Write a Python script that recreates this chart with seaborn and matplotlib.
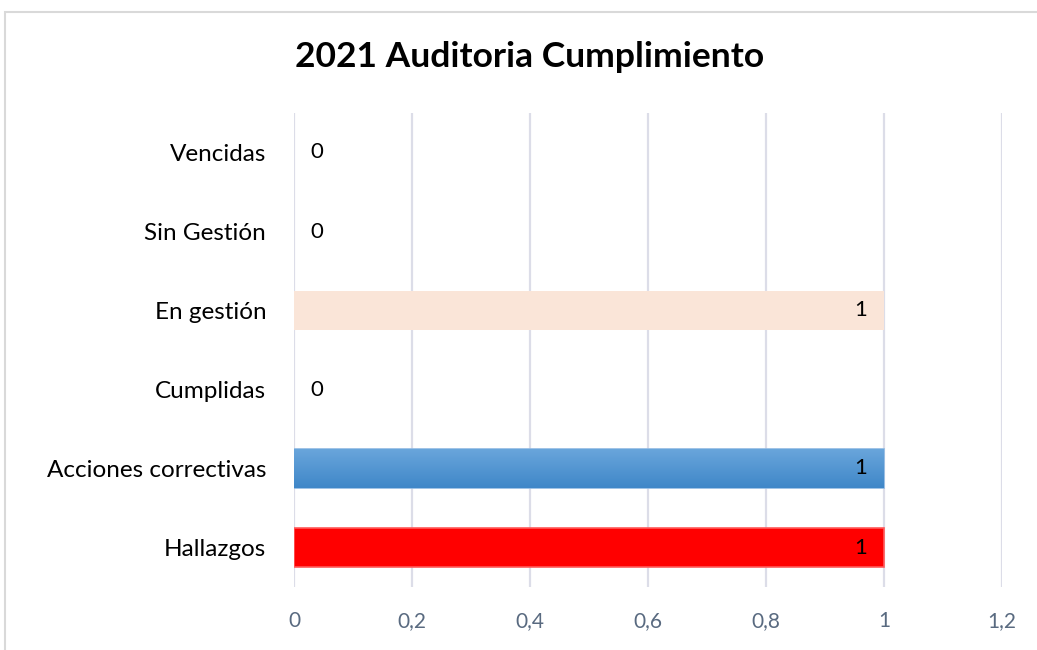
import matplotlib
matplotlib.use("Agg")
import matplotlib.pyplot as plt
import matplotlib.patches as mpatches
import numpy as np
import pandas as pd
import seaborn as sns

# ── data ───────────────────────────────────────────────
categories = ["Vencidas", "Sin Gestión", "En gestión", "Cumplidas",
              "Acciones correctivas", "Hallazgos"]
values = [0, 0, 1, 0, 1, 1]
bar_colors = ["#FFFFFF", "#FFFFFF", "#FAE5D8", "#FFFFFF", "#5398D6", "#FF0000"]
x_ticks = [0, 0.2, 0.4, 0.6, 0.8, 1, 1.2]
x_tick_labels = ["0", "0,2", "0,4", "0,6", "0,8", "1", "1,2"]
title = "2021 Auditoria Cumplimiento"

df = pd.DataFrame({"categoria": categories, "valor": values})

sns.set_theme(style="white")
plt.rcParams["font.family"] = ["Lato", "DejaVu Sans"]

fig = plt.figure(figsize=(10.37, 6.5), dpi=100, facecolor="white")
ax = fig.add_axes([294 / 1037, 1 - 587 / 650, (1002 - 294) / 1037, (587 - 113) / 650])

sns.barplot(data=df, x="valor", y="categoria", hue="categoria", palette=bar_colors,
            order=categories, orient="h", width=0.5, legend=False, ax=ax,
            saturation=1, linewidth=0)

# gradient for the blue bar
grad = np.linspace(0, 1, 100).reshape(-1, 1)
cmap = matplotlib.colors.LinearSegmentedColormap.from_list("g", ["#6AA6DC", "#3F87C8"])
for patch, cat in zip(ax.patches, categories):
    if cat == "Acciones correctivas":
        x0, y0 = patch.get_x(), patch.get_y()
        w, h = patch.get_width(), patch.get_height()
        im = ax.imshow(grad, cmap=cmap, aspect="auto", extent=[x0, x0 + w, y0 + h, y0],
                       zorder=patch.get_zorder() + 0.1, origin="upper")
        im.set_clip_path(patch)
        patch.set_edgecolor("#8DB8E2")
        patch.set_linewidth(1.2)
    if cat == "Hallazgos":
        patch.set_edgecolor("#FF5A5A")
        patch.set_linewidth(1.2)

# value labels
for i, v in enumerate(values):
    if v > 0:
        ax.annotate(f"{v}", xy=(v, i), xytext=(-12, 0), textcoords="offset points",
                    ha="right", va="center", fontsize=16, color="black", zorder=5)
    else:
        ax.annotate(f"{v}", xy=(v, i), xytext=(12, 0), textcoords="offset points",
                    ha="left", va="center", fontsize=16, color="black", zorder=5)

ax.set_xlim(0, 1.2)
ax.set_ylim(5.5, -0.5)
ax.set_xticks(x_ticks)
ax.set_xticklabels(x_tick_labels)
ax.tick_params(axis="x", labelsize=15, colors="#596A80", length=0, pad=17)
ax.tick_params(axis="y", labelsize=17.5, colors="black", length=0, pad=20)
ax.set_xlabel("")
ax.set_ylabel("")
ax.xaxis.grid(True, color="#DCDDE8", linewidth=1.6)
ax.set_axisbelow(True)
for s in ax.spines.values():
    s.set_visible(False)

fig.text(530 / 1037, 1 - 57 / 650, title, ha="center", va="center",
         fontsize=25.5, fontweight="bold", color="black")

# outer chart frame
frame = mpatches.Rectangle((5 / 1037, -0.1), 1.1, 1 - 12 / 650 + 0.1,
                           transform=fig.transFigure, fill=False,
                           edgecolor="#D9D9D9", linewidth=1.5)
fig.patches.append(frame)

fig.savefig("out.png", dpi=100, facecolor="white")
